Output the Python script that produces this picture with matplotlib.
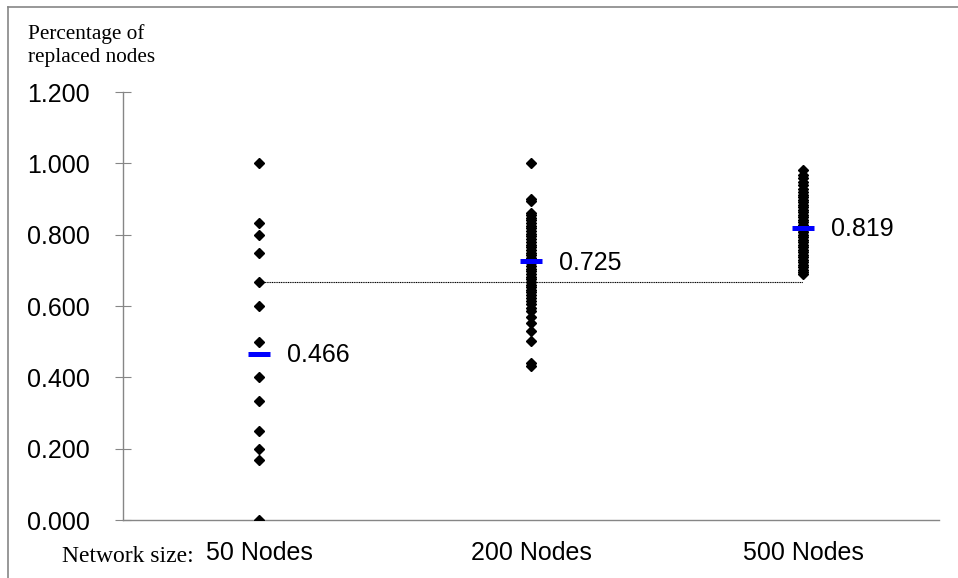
import numpy as np
import matplotlib.pyplot as plt
from matplotlib.lines import Line2D

# Datos
categorias = ["50 Nodes", "200 Nodes", "500 Nodes"]

nodos_50 = [1.000, 0.833, 0.800, 0.750, 0.667, 0.600, 0.500, 0.400,
            0.333, 0.250, 0.200, 0.167, 0.000]

nodos_200 = [1.000, 0.900, 0.895, 0.862, 0.855, 0.848, 0.840, 0.832, 0.825,
             0.818, 0.810, 0.802, 0.795, 0.788, 0.780, 0.772, 0.765, 0.758,
             0.750, 0.742, 0.735, 0.728, 0.720, 0.712, 0.705, 0.698, 0.690,
             0.682, 0.675, 0.668, 0.660, 0.652, 0.645, 0.638, 0.630, 0.622,
             0.615, 0.605, 0.595, 0.585, 0.570, 0.553, 0.529, 0.501, 0.440,
             0.432]

nodos_500 = [0.980, 0.968, 0.958, 0.948, 0.938, 0.928, 0.920, 0.912, 0.905,
             0.898, 0.891, 0.884, 0.877, 0.870, 0.863, 0.856, 0.849, 0.842,
             0.835, 0.828, 0.821, 0.814, 0.807, 0.800, 0.793, 0.786, 0.779,
             0.772, 0.765, 0.758, 0.751, 0.744, 0.737, 0.730, 0.723, 0.716,
             0.709, 0.702, 0.695, 0.689]

medias = [0.466, 0.725, 0.819]
linea_ref = [0.667, 0.667]   # línea punteada entre 50 y 500 nodos

y_ticks = [0.0, 0.2, 0.4, 0.6, 0.8, 1.0, 1.2]

GRIS = "#868686"

fig = plt.figure(figsize=(9.58, 5.78), dpi=100)
ax = fig.add_axes([123 / 958, 58 / 578, 816 / 958, 428 / 578])

posiciones = [0.5, 1.5, 2.5]
for pos, valores in zip(posiciones, [nodos_50, nodos_200, nodos_500]):
    ax.plot([pos] * len(valores), valores, linestyle="none", marker="D",
            markersize=4.6, color="black", zorder=3)

# línea punteada
ax.plot([posiciones[0], posiciones[2]], linea_ref, color="black",
        linestyle=(0, (1, 0.6)), linewidth=0.8, zorder=2)

# medias
for pos, m in zip(posiciones, medias):
    ax.plot([pos], [m], marker="_", markersize=16, markeredgewidth=3.6,
            color="#0000FF", zorder=4)
    ax.annotate(f"{m:.3f}", (pos, m), xytext=(20.5, -1), textcoords="offset points",
                va="center", ha="left", fontsize=18, family="Liberation Sans")

ax.set_xlim(0, 3)
ax.set_ylim(0, 1.2)
ax.set_yticks(y_ticks)
ax.set_yticklabels([f"{v:.3f}" for v in y_ticks], fontsize=18, family="Liberation Sans")
ax.set_xticks(posiciones)
ax.set_xticklabels(categorias, fontsize=18, family="Liberation Sans")
ax.tick_params(axis="y", direction="inout", length=12, color=GRIS, pad=18)
ax.tick_params(axis="x", length=0, pad=15)

for lado in ["top", "right"]:
    ax.spines[lado].set_visible(False)
for lado in ["left", "bottom"]:
    ax.spines[lado].set_color(GRIS)
    ax.spines[lado].set_linewidth(1.0)

# textos en serif
fig.text(28 / 958, 1 - 62 / 578, "Percentage of\nreplaced nodes", fontsize=15.3,
         family="Liberation Serif", va="baseline", ha="left", linespacing=1.25)
fig.text(62 / 958, 1 - 562 / 578, "Network size:", fontsize=17,
         family="Liberation Serif", va="baseline", ha="left")

# marco exterior (solo arriba e izquierda visibles)
fig.add_artist(Line2D([8 / 958, 8 / 958], [0, 1 - 7 / 578], color=GRIS, linewidth=1.2))
fig.add_artist(Line2D([8 / 958, 1], [1 - 7 / 578, 1 - 7 / 578], color=GRIS, linewidth=1.2))

fig.savefig("out.png", dpi=100)
